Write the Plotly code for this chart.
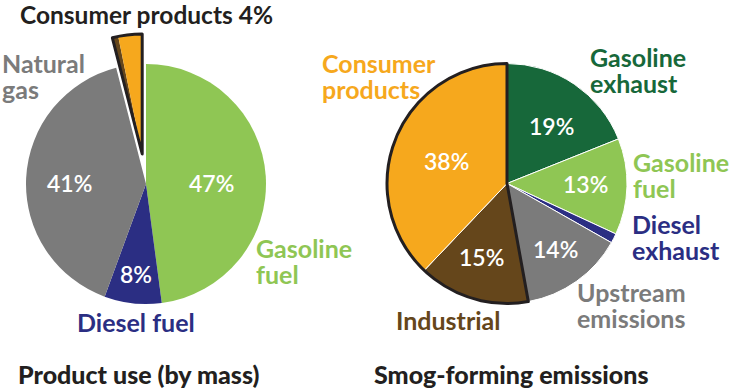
import plotly.graph_objects as go

W, H = 730, 390

# ---------------- data ----------------
left_labels = ["Gasoline fuel", "Diesel fuel", "Natural gas", "Consumer products"]
left_values = [47.9, 7.7, 40.4, 4.0]
left_pct = ["47%", "8%", "41%", "4%"]
left_consumer_split = [0.8, 3.2]          # brown sliver, orange part of the pulled slice

right_labels = ["Gasoline exhaust", "Gasoline fuel", "Diesel exhaust",
                "Upstream emissions", "Industrial", "Consumer products"]
right_values = [19, 13, 1.3, 14, 15, 38]
right_pct = ["19%", "13%", "", "14%", "15%", "38%"]

titles = ["Product use (by mass)", "Smog-forming emissions"]

# ---------------- styles ----------------
GREEN = "#8FC654"
DKGREEN = "#17683A"
NAVY = "#2B2E83"
GRAY = "#7B7B7B"
ORANGE = "#F6A81D"
BROWN = "#65461B"
INK = "#231F20"
CLEAR = "rgba(0,0,0,0)"
FONT = "Lato"
LBL = 25      # label font size
PCT = 23      # percentage font size
GAP = 26      # line spacing for two-line labels


def px(x):
    return x / W


def py(y):
    return 1 - y / H


def dom(cx, cy, r):
    return dict(x=[px(cx - r), px(cx + r)], y=[py(cy + r), py(cy - r)])


common = dict(sort=False, direction="clockwise", rotation=0, textinfo="none",
              hoverinfo="skip", showlegend=False)

L_CX, L_CY, R = 146, 184, 120
PULL_DX, PULL_DY = -3.8, -30
R_CX, R_CY = 507, 183.5

fig = go.Figure()

# left main pie (slot for consumer products left empty)
fig.add_trace(go.Pie(values=left_values, labels=left_labels,
                     marker=dict(colors=[GREEN, NAVY, GRAY, CLEAR], line=dict(width=0)),
                     domain=dom(L_CX, L_CY, R), **common))
# pulled consumer-products slice
rest_left = sum(left_values[:3])
fig.add_trace(go.Pie(values=[rest_left] + left_consumer_split,
                     labels=["rest", "sliver", "Consumer products"],
                     marker=dict(colors=[CLEAR, BROWN, ORANGE], line=dict(width=0)),
                     domain=dom(L_CX + PULL_DX, L_CY + PULL_DY, R), **common))
fig.add_trace(go.Pie(values=[rest_left, left_values[3]], labels=["rest", "cp"],
                     marker=dict(colors=[CLEAR, CLEAR],
                                 line=dict(color=INK, width=[0, 3])),
                     domain=dom(L_CX + PULL_DX, L_CY + PULL_DY, R), **common))

# right pie
fig.add_trace(go.Pie(values=right_values, labels=right_labels,
                     marker=dict(colors=[DKGREEN, GREEN, NAVY, GRAY, BROWN, ORANGE],
                                 line=dict(color="white", width=1)),
                     domain=dom(R_CX, R_CY, R), **common))
rest_right = sum(right_values[:4])
fig.add_trace(go.Pie(values=[rest_right, right_values[4] + right_values[5]],
                     labels=["rest", "ind+cp"],
                     marker=dict(colors=[CLEAR, CLEAR],
                                 line=dict(color=INK, width=[0, 3])),
                     domain=dom(R_CX, R_CY, R), **common))

annotations = []


def ann(text, x, y, color, size=LBL, xanchor="center", weight=700, align="center"):
    annotations.append(dict(text=text, x=px(x), y=py(y), xref="paper", yref="paper",
                            showarrow=False, xanchor=xanchor, yanchor="middle", align=align,
                            font=dict(family=FONT, size=size, color=color, weight=weight)))


def ann2(lines, x, y_first, color):
    # base font sets the line spacing (1.3 em), inner spans set the glyph size
    base = GAP / 1.3
    txt = "<br>".join("<span style='font-size:%dpx'>%s</span>" % (LBL, t) for t in lines)
    ann(txt, x, y_first + GAP * (len(lines) - 1) / 2, color, size=base,
        xanchor="left", align="left")


# left chart texts
ann(left_labels[3] + " " + left_pct[3], 146.5, 14.5, INK, size=24.5)
ann2(["Natural", "gas"], 0, 63, GRAY)
ann2(["Gasoline", "fuel"], 254, 248, GREEN)
ann(left_labels[1], 136, 322, NAVY)
ann(left_pct[0], 212, 183, "white", size=PCT, weight=600)
ann(left_pct[2], 69, 183, "white", size=PCT, weight=600)
ann(left_pct[1], 136, 274, "white", size=PCT, weight=600)

# right chart texts
ann2(["Consumer", "products"], 320, 63, ORANGE)
ann2(["Gasoline", "exhaust"], 588, 57, DKGREEN)
ann2(["Gasoline", "fuel"], 631, 162, GREEN)
ann2(["Diesel", "exhaust"], 630, 224, NAVY)
ann2(["Upstream", "emissions"], 575, 292, GRAY)
ann(right_labels[4], 448, 320, BROWN)
ann(right_pct[0], 551, 126, "white", size=PCT, weight=600)
ann(right_pct[5], 446, 161, "white", size=PCT, weight=600)
ann(right_pct[1], 585, 184, "white", size=PCT, weight=600)
ann(right_pct[3], 555, 249, "white", size=PCT, weight=600)
ann(right_pct[4], 481, 257, "white", size=PCT, weight=600)

# titles
ann(titles[0], 138, 374, INK, size=25, weight=900)
ann(titles[1], 511, 374, INK, size=25, weight=900)

fig.update_layout(width=W, height=H, margin=dict(l=0, r=0, t=0, b=0),
                  paper_bgcolor="white", plot_bgcolor="white",
                  annotations=annotations, showlegend=False)

fig.write_html("out.html", config={"displayModeBar": False},
               post_script="document.body.style.margin='0';")
